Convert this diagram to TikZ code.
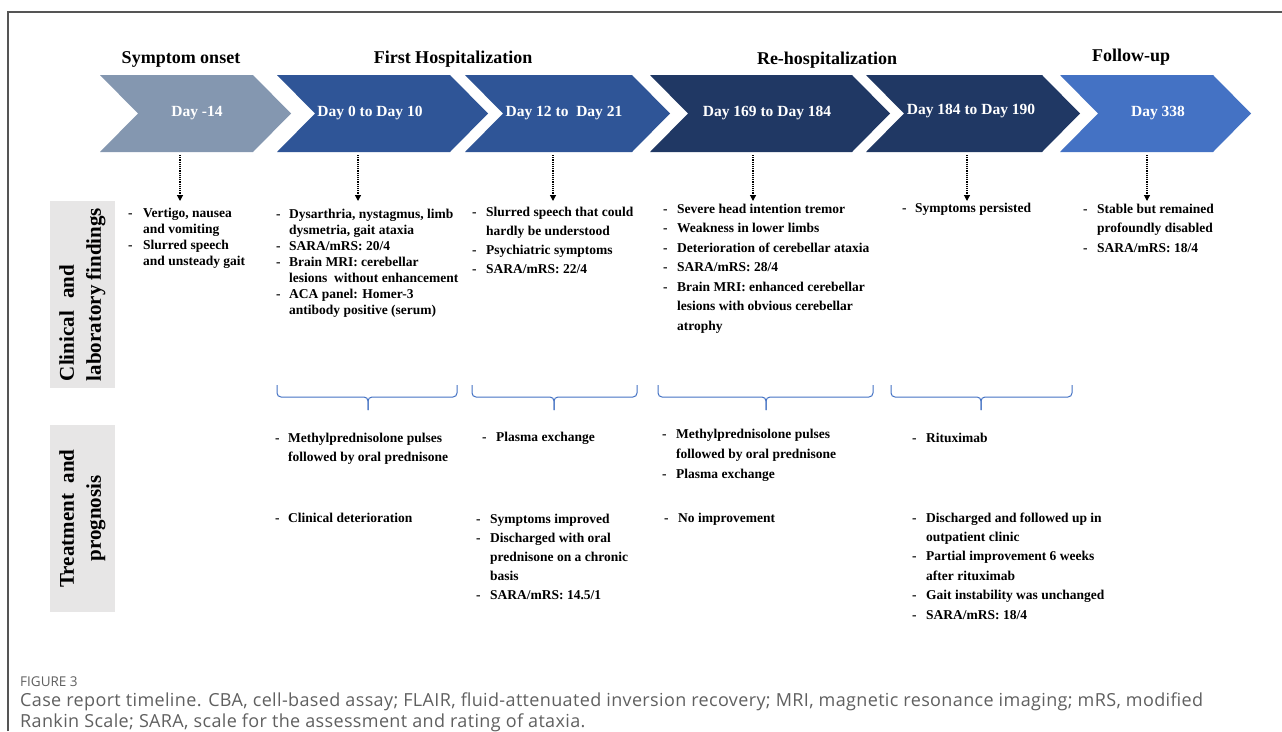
\documentclass[tikz,border=0pt]{standalone}
\usepackage{fontspec}
\setmainfont{Liberation Serif}
\newfontfamily\capfont[LetterSpace=2]{Open Sans}
\newfontfamily\figfont{Open Sans}
\usetikzlibrary{arrows.meta}
\definecolor{cgray}{HTML}{8497B0}
\definecolor{cblue}{HTML}{2F5597}
\definecolor{cnavy}{HTML}{203864}
\definecolor{clight}{HTML}{4472C4}
\definecolor{boxgray}{HTML}{E7E6E6}
\definecolor{framecol}{HTML}{555555}
\definecolor{captext}{HTML}{606060}
\newcommand\blist[3]{{\fontsize{13.5}{#1}\selectfont\bfseries\begin{tabular}[t]{@{}p{#2}@{}l@{}}#3\end{tabular}}}
\newcommand\mychev[3]{\fill[#3] (#1,75) -- (#2,75) -- ({#2+38},113.5) -- (#2,152) -- (#1,152) -- ({#1+38},113.5) -- cycle;}
\newcommand\mybrack[3]{\draw[brk] (#1,385) -- (#1,397) -- (#2,397) -- (#2,410);\draw[brk] (#3,385) -- (#3,397) -- (#2,397) -- (#2,410);}
\begin{document}
\begin{tikzpicture}[x=1pt,y=-1pt,
  head/.style={font=\fontsize{18}{20}\selectfont\bfseries, anchor=base, inner sep=0},
  daytxt/.style={font=\fontsize{15.5}{18}\selectfont\bfseries, text=white, inner sep=0},
  lst/.style={anchor=base west, inner sep=0, text=black},
  dotarrow/.style={densely dotted, line width=1.2pt, -{Triangle[width=6pt,length=6pt]}},
  brk/.style={draw=clight, line width=1pt, rounded corners=4pt},
  labbox/.style={fill=boxgray, rotate=90, minimum width=187pt, minimum height=65pt, inner sep=0,
     font=\fontsize{21}{27}\selectfont\bfseries},
  captxt/.style={anchor=base west, inner sep=0, text=captext, font=\capfont\fontsize{18}{22}\selectfont},
  frameline/.style={draw=framecol, line width=1.3pt}
]
\useasboundingbox (0,0) rectangle (1282,731);
\fill[white] (0,0) rectangle (1282,731);
\draw[frameline] (8,731) -- (8,12) -- (1282,12);

% headings
\node[head] (h1) at (181,63) {Symptom onset};
\node[head] (h2) at (453,63) {First Hospitalization};
\node[head] (h3) at (827,64) {Re-hospitalization};
\node[head] (h4) at (1131,61) {Follow-up};

% chevrons
\mychev{100}{253}{cgray}
\mychev{277}{450}{cblue}
\mychev{465}{632}{cblue}
\mychev{650}{852}{cnavy}
\mychev{866}{1042}{cnavy}
\mychev{1060}{1213}{clight}

\node[daytxt] (d1) at (197,113) {Day -14};
\node[daytxt] (d2) at (370,113) {Day 0 to Day 10};
\node[daytxt] (d3) at (564,113) {Day 12 to~ Day 21};
\node[daytxt] (d4) at (767,113) {Day 169 to Day 184};
\node[daytxt] (d5) at (971,111) {Day 184 to Day 190};
\node[daytxt] (d6) at (1158,113) {Day 338};

% dotted arrows
\foreach \i/\x in {1/180,2/358,3/553,4/753,5/967,6/1147}{
  \coordinate (s\i) at (\x,155);
  \coordinate (e\i) at (\x,201);
  \draw[dotarrow] (s\i) -- (e\i);
}

% side labels
\node[labbox, align=left] (lab1) at (82.5,294.5) {Clinical\hspace{0.6em}and\\laboratory findings};
\node[labbox, align=center] (lab2) at (82.5,518.5) {Treatment\hspace{0.5em}and\\prognosis};

% clinical findings
\node[lst] (f1) at (128,217) {\blist{16}{15pt}{-&Vertigo, nausea\\&and vomiting\\-&Slurred speech\\&and unsteady gait}};
\node[lst] (f2) at (276,218) {\blist{16}{13pt}{-&Dysarthria, nystagmus, limb\\&dysmetria, gait ataxia\\-&SARA/mRS: 20/4\\-&Brain MRI: cerebellar\\&lesions\ \ without enhancement\\-&ACA panel: Homer-3\\&antibody positive (serum)}};
\node[lst] (f3) at (472,216) {\blist{19}{14pt}{-&Slurred speech that could\\&hardly be understood\\-&Psychiatric symptoms\\-&SARA/mRS: 22/4}};
\node[lst] (f4) at (663,213) {\blist{19.5}{14pt}{-&Severe head intention tremor\\-&Weakness in lower limbs\\-&Deterioration of cerebellar ataxia\\-&SARA/mRS: 28/4\\-&Brain MRI: enhanced cerebellar\\&lesions with obvious cerebellar\\&atrophy}};
\node[lst] (f5) at (902,212) {\blist{19.5}{13pt}{-&Symptoms persisted}};
\node[lst] (f6) at (1083,213) {\blist{19.5}{14pt}{-&Stable but remained\\&profoundly disabled\\-&SARA/mRS: 18/4}};

% brackets
\mybrack{277}{368}{457}
\mybrack{472}{554}{637}
\mybrack{658}{766}{873}
\mybrack{891}{981}{1072}

% treatment
\node[lst] (t2a) at (275,442) {\blist{19}{13pt}{-&Methylprednisolone pulses\\&followed by oral prednisone}};
\node[lst] (t2b) at (275,522) {\blist{19}{13pt}{-&Clinical deterioration}};
\node[lst] (t3a) at (482,441) {\blist{19}{14pt}{-&Plasma exchange}};
\node[lst] (t3b) at (476,523) {\blist{19}{14pt}{-&Symptoms improved\\-&Discharged with oral\\&prednisone on a chronic\\&basis\\-&SARA/mRS: 14.5/1}};
\node[lst] (t4a) at (662,438) {\blist{20}{14pt}{-&Methylprednisolone pulses\\&followed by oral prednisone\\-&Plasma exchange}};
\node[lst] (t4b) at (664,522) {\blist{19}{14pt}{-&No improvement}};
\node[lst] (t5a) at (912,442) {\blist{19}{14pt}{-&Rituximab}};
\node[lst] (t5b) at (912,522) {\blist{19.4}{14pt}{-&Discharged and followed up in\\&outpatient clinic\\-&Partial improvement 6 weeks\\&after rituximab\\-&Gait instability was unchanged\\-&SARA/mRS: 18/4}};

% caption
\node[anchor=base west, inner sep=0, text=captext, font=\figfont\fontsize{13.5}{15}\selectfont] (fig) at (20,686) {FIGURE 3};
\node[captxt] (cap1) at (20,706) {Case report timeline. CBA, cell-based assay; FLAIR, fluid-attenuated inversion recovery; MRI, magnetic resonance imaging; mRS, modified};
\node[captxt] (cap2) at (20,727) {Rankin Scale; SARA, scale for the assessment and rating of ataxia.};
\end{tikzpicture}
\end{document}
